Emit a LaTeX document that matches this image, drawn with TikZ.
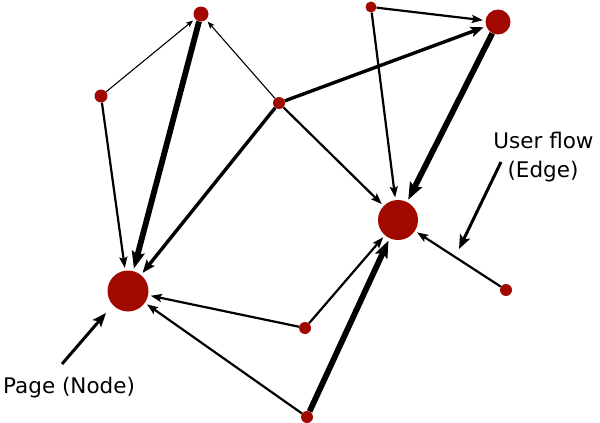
\documentclass[tikz,border=0pt]{standalone}
\usepackage{fontspec}
\setmainfont{DejaVu Sans}
\usetikzlibrary{arrows.meta}
\definecolor{pagered}{RGB}{160,8,0}
\tikzset{
  pg/.style={circle,fill=pagered,draw=none,inner sep=0pt,minimum size=#1},
  fl/.style={draw=black,shorten >=2.5pt,shorten <=0pt},
  thinflow/.style={fl,line width=1.1pt,-{Stealth[length=7pt,width=5.5pt,inset=1.5pt]}},
  medflow/.style={fl,line width=2.2pt,-{Stealth[length=11pt,width=8pt,inset=2pt]}},
  thickflow/.style={fl,line width=3.4pt,-{Stealth[length=13pt,width=10pt,inset=2.5pt]}},
  hugeflow/.style={fl,line width=5.8pt,-{Stealth[length=17pt,width=13pt,inset=3pt]}},
  pointer/.style={draw=black,line width=3pt,-{Stealth[length=14pt,width=11pt,inset=3pt]}},
  lbl/.style={font=\fontsize{21.5}{26}\selectfont,inner sep=0pt}
}
\begin{document}
\begin{tikzpicture}[x=1pt,y=-1pt]
\useasboundingbox (0,0) rectangle (600,423);
% nodes
\node[pg=15pt] (A) at (201,14) {};
\node[pg=13pt] (B) at (101,96) {};
\node[pg=12pt] (C) at (279,103) {};
\node[pg=11pt] (D) at (371,7) {};
\node[pg=25pt] (E) at (498,22) {};
\node[pg=40pt] (F) at (398,220) {};
\node[pg=41pt] (G) at (128,291) {};
\node[pg=12pt] (H) at (305,328) {};
\node[pg=12pt] (I) at (506,290) {};
\node[pg=12pt] (J) at (307,417) {};
% edges
\draw[thinflow] (B) -- (A);
\draw[thinflow] (C) -- (A);
\draw[hugeflow] (A) -- (G);
\draw[medflow] (B) -- (G);
\draw[thickflow] (C) -- (G);
\draw[thickflow] (C) -- (E);
\draw[medflow] (C) -- (F);
\draw[medflow] (D) -- (E);
\draw[medflow] (D) -- (F);
\draw[hugeflow] (E) -- (F);
\draw[medflow] (H) -- (G);
\draw[medflow] (J) -- (G);
\draw[medflow] (H) -- (F);
\draw[hugeflow] (J) -- (F);
\draw[medflow] (I) -- (F);
% labels
\node[lbl,anchor=base west] (pl) at (3,393) {Page (Node)};
\node[lbl,anchor=base] (ul1) at (543.5,148) {User flow};
\node[lbl,anchor=base] (ul2) at (543,177) {(Edge)};
\coordinate (p1s) at (62,364);
\coordinate (p1e) at (106,313);
\coordinate (p2s) at (501,162);
\coordinate (p2e) at (459,249);
\draw[pointer] (p1s) -- (p1e);
\draw[pointer] (p2s) -- (p2e);
\end{tikzpicture}
\end{document}
